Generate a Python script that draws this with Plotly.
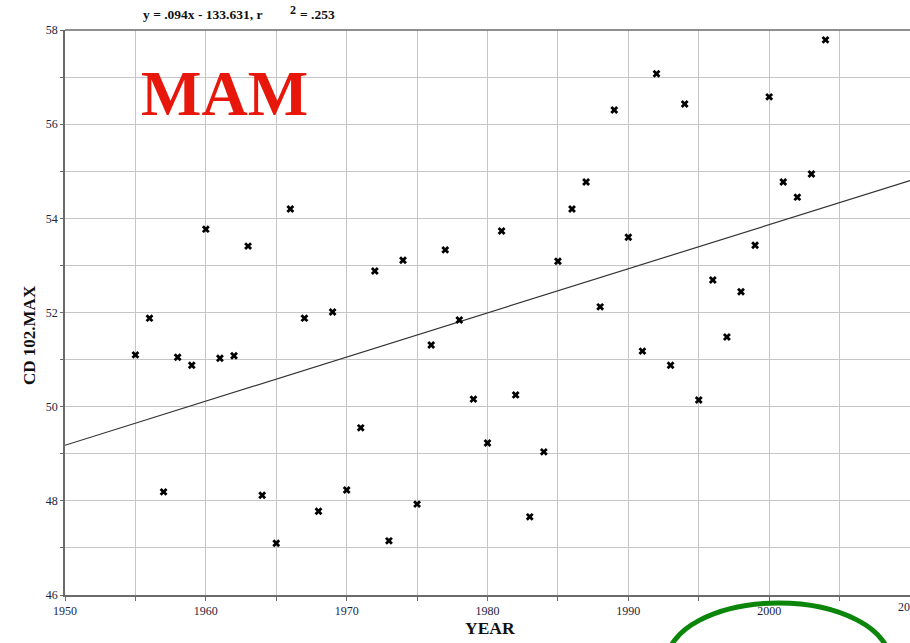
import numpy as np
import plotly.graph_objects as go

years = list(range(1955, 2005))
values = [51.10, 51.88, 48.19, 51.05, 50.88, 53.77, 51.03, 51.08, 53.41, 48.12,
          47.10, 54.20, 51.88, 47.78, 52.01, 48.23, 49.55, 52.88, 47.15, 53.11,
          47.93, 51.31, 53.33, 51.84, 50.16, 49.23, 53.73, 50.25, 47.66, 49.04,
          53.09, 54.20, 54.77, 52.12, 56.30, 53.60, 51.18, 57.07, 50.88, 56.43,
          50.14, 52.69, 51.48, 52.44, 53.43, 56.58, 54.77, 54.45, 54.94, 57.79]
x_range = [1950, 2010]
y_range = [46, 58]
x_ticks = [1950, 1960, 1970, 1980, 1990, 2000, 2010]
eq_text = "y = .094x - 133.631, r"
r2_text = "= .253"
season_label = "MAM"

slope, intercept = np.polyfit(years, values, 1)
fit_x = np.array(x_range, dtype=float)
fit_y = slope * fit_x + intercept

serif = "Liberation Serif, Times New Roman, serif"
grid_c = "#c6c6c6"
axis_c = "#6a6a6a"
tick_c = "#1c2440"

fig = go.Figure()
fig.add_trace(go.Scatter(x=fit_x, y=fit_y, mode="lines",
                         line=dict(color="#333333", width=1.2), hoverinfo="skip"))
fig.add_trace(go.Scatter(x=years, y=values, mode="markers",
                         marker=dict(symbol="x", size=7, color="black",
                                     line=dict(width=0))))

fig.update_layout(
    width=910, height=643,
    margin=dict(l=65, r=0, t=30, b=48),
    paper_bgcolor="white", plot_bgcolor="white",
    showlegend=False,
    font=dict(family=serif, color="#222222", size=12),
)
fig.update_xaxes(range=x_range, tickvals=x_ticks[:-1], showgrid=True,
                 gridcolor=grid_c, gridwidth=1.3,
                 minor=dict(dtick=5, tick0=1950, showgrid=True, gridcolor=grid_c, gridwidth=1.3,
                            ticks="outside", ticklen=4, tickcolor=axis_c),
                 ticks="outside", ticklen=4, tickcolor=axis_c,
                 showline=True, linecolor=axis_c, linewidth=1.5,
                 zeroline=False, tickfont=dict(family=serif, size=12, color=tick_c))
fig.update_yaxes(range=y_range, dtick=2, tick0=46, showgrid=True,
                 gridcolor=grid_c, gridwidth=1.3,
                 minor=dict(dtick=1, showgrid=True, gridcolor=grid_c, gridwidth=1.3,
                            ticks="outside", ticklen=3, tickcolor=axis_c),
                 ticks="outside", ticklen=3, tickcolor=axis_c,
                 showline=True, linecolor=axis_c, linewidth=1.5,
                 zeroline=False, tickfont=dict(family=serif, size=12, color=tick_c))

# last x tick label, which sits on the right edge of the page (cut off as in the original)
fig.add_annotation(xref="x", yref="paper", x=x_ticks[-1], y=0, yshift=-12,
                   xanchor="center", yanchor="middle", showarrow=False,
                   text=str(x_ticks[-1]), font=dict(family=serif, size=12, color=tick_c))

# top border
fig.add_shape(type="line", xref="paper", yref="paper", x0=0, x1=1, y0=1, y1=1,
              line=dict(color=axis_c, width=1.5))

def px_x(px):
    return (px - 65) / 845.0

def px_y(py):
    return (595 - py) / 565.0

fig.add_annotation(xref="paper", yref="paper", x=px_x(141), y=px_y(15),
                   xanchor="left", yanchor="middle", showarrow=False,
                   text="<b>" + eq_text + "</b>",
                   font=dict(family=serif, size=13.5, color="#111111"))
fig.add_annotation(xref="paper", yref="paper", x=px_x(288), y=px_y(10),
                   xanchor="left", yanchor="middle", showarrow=False,
                   text="<b>2</b>", font=dict(family=serif, size=12, color="#111111"))
fig.add_annotation(xref="paper", yref="paper", x=px_x(298), y=px_y(15),
                   xanchor="left", yanchor="middle", showarrow=False,
                   text="<b>" + r2_text + "</b>",
                   font=dict(family=serif, size=13.5, color="#111111"))

fig.add_annotation(xref="paper", yref="paper", x=px_x(139), y=px_y(93),
                   xanchor="left", yanchor="middle", showarrow=False,
                   text="<b>" + season_label + "</b>",
                   font=dict(family=serif, size=64, color="#e8170b"))

fig.add_annotation(xref="paper", yref="paper", x=px_x(29), y=px_y(335),
                   xanchor="center", yanchor="middle", showarrow=False, textangle=-90,
                   text="<b>CD 102.MAX</b>", font=dict(family=serif, size=17, color="#111111"))
fig.add_annotation(xref="paper", yref="paper", x=px_x(490), y=px_y(628),
                   xanchor="center", yanchor="middle", showarrow=False,
                   text="<b>YEAR</b>", font=dict(family=serif, size=17.5, color="#111111"))

fig.add_shape(type="circle", xref="paper", yref="paper",
              x0=px_x(667), x1=px_x(890), y0=px_y(720), y1=px_y(603),
              line=dict(color="#0b860b", width=5))

fig.write_html("out.html", config={"displayModeBar": False},
               post_script="document.body.style.margin='0';document.body.style.overflow='hidden';")
